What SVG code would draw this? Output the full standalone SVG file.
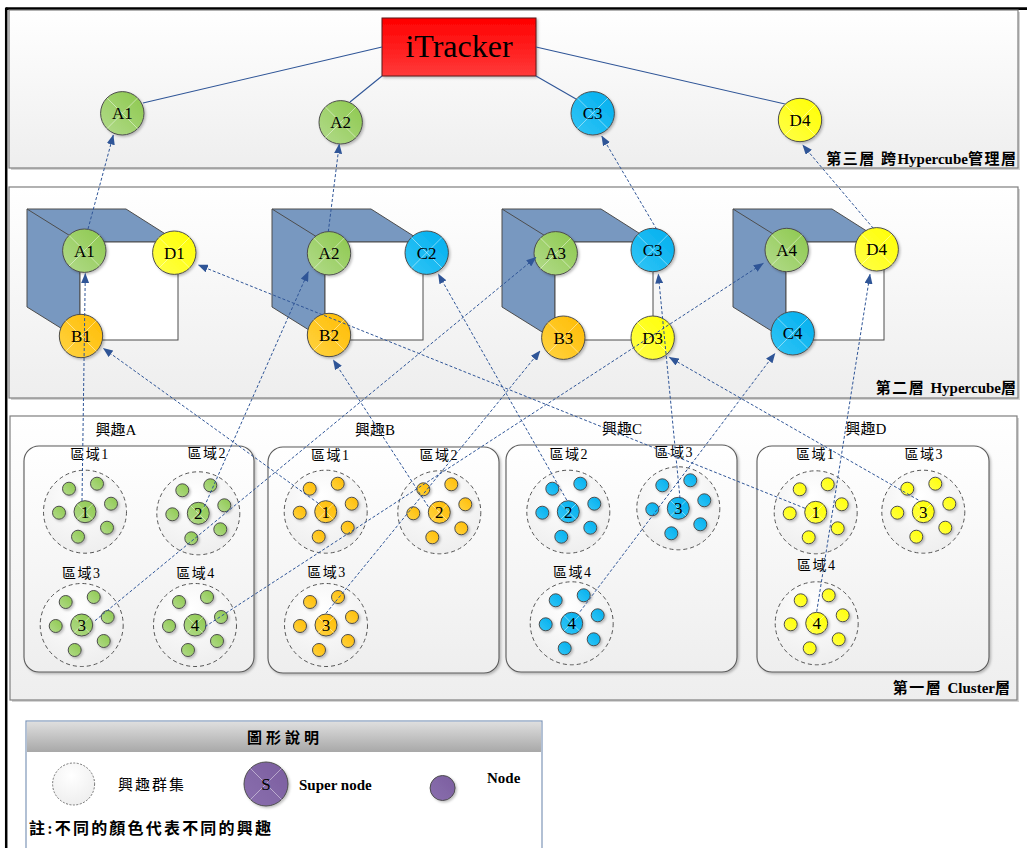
<svg xmlns="http://www.w3.org/2000/svg" xmlns:xlink="http://www.w3.org/1999/xlink" width="1027" height="848" viewBox="0 0 1027 848">
  <defs>
    <style>
      .panel { stroke: #7f7f7f; stroke-width: 1.2; fill: url(#panelFill); }
      .shadow { fill: #d4d4d4; }
      .cubeFace { fill: #7898c0; stroke: #4d4d4d; stroke-width: 1; }
      .cubeFront { fill: #ffffff; stroke: #4d4d4d; stroke-width: 1; }
      .node { stroke: #4d4d4d; stroke-width: 1; }
      .g { fill: url(#gGreen); }
      .o { fill: url(#gOrange); }
      .c { fill: url(#gCyan); }
      .y { fill: url(#gYellow); }
      .p { fill: url(#gPurple); }
      .cluster { fill: url(#panelFill); stroke: #5a5a5a; stroke-width: 1.1; }
      .region { fill: url(#regionFill); stroke: #555555; stroke-width: 1; stroke-dasharray: 4 3; }
      .xm { stroke: #ffffff; stroke-opacity: 0.45; stroke-width: 1; fill: none; }
      .lbl { font-family: 'Liberation Serif', 'Noto Sans CJK TC', serif; fill: #000; text-anchor: middle; }
      .nodeTxt { font-size: 17px; }
      .regTxt { font-size: 14px; letter-spacing: 1.5px; }
      .intTxt { font-size: 15px; }
      .layerTxt { font-family: 'Liberation Serif', 'Noto Sans CJK TC', serif; font-size: 15px; font-weight: bold; text-anchor: end; fill: #000; }
      .cjk { letter-spacing: 1.5px; }
      .solid { stroke: #2f5597; stroke-width: 1.1; fill: none; }
      .dash { stroke: #2f5597; stroke-width: 1; stroke-dasharray: 3 2; fill: none; marker-end: url(#arr); }
    </style>
    <linearGradient id="panelFill" x1="0" y1="0" x2="0" y2="1">
      <stop offset="0" stop-color="#ffffff"/>
      <stop offset="1" stop-color="#eeeeee"/>
    </linearGradient>
    <radialGradient id="regionFill" cx="0.45" cy="0.3" r="0.8">
      <stop offset="0" stop-color="#ffffff"/>
      <stop offset="1" stop-color="#ececec"/>
    </radialGradient>
    <linearGradient id="gGreen" x1="1" y1="0" x2="0" y2="1">
      <stop offset="0" stop-color="#8cc84c"/>
      <stop offset="1" stop-color="#b3db8c"/>
    </linearGradient>
    <linearGradient id="gOrange" x1="1" y1="0" x2="0" y2="1">
      <stop offset="0" stop-color="#ffbb00"/>
      <stop offset="1" stop-color="#ffd444"/>
    </linearGradient>
    <linearGradient id="gCyan" x1="1" y1="0" x2="0" y2="1">
      <stop offset="0" stop-color="#00aeee"/>
      <stop offset="1" stop-color="#33c6f6"/>
    </linearGradient>
    <linearGradient id="gYellow" x1="1" y1="0" x2="0" y2="1">
      <stop offset="0" stop-color="#ffff00"/>
      <stop offset="1" stop-color="#ffff4a"/>
    </linearGradient>
    <linearGradient id="gPurple" x1="1" y1="0" x2="0" y2="1">
      <stop offset="0" stop-color="#7b5e9f"/>
      <stop offset="1" stop-color="#8a6fae"/>
    </linearGradient>
    <linearGradient id="gRed" x1="0" y1="0" x2="0" y2="1">
      <stop offset="0" stop-color="#ff0000"/>
      <stop offset="1" stop-color="#ff3a3a"/>
    </linearGradient>
    <linearGradient id="gHeader" x1="0" y1="0" x2="0" y2="1">
      <stop offset="0" stop-color="#dedede"/>
      <stop offset="1" stop-color="#a8a8a8"/>
    </linearGradient>
    <filter id="soft" x="-20%" y="-20%" width="150%" height="150%">
      <feDropShadow dx="1.5" dy="1.5" stdDeviation="1" flood-color="#000" flood-opacity="0.25"/>
    </filter>
    <!-- faint diagonal cross drawn on each round node (unit circle) -->
    <g id="xm">
      <line x1="-0.707" y1="-0.707" x2="0.707" y2="0.707" class="xm" vector-effect="non-scaling-stroke"/>
      <line x1="0.707" y1="-0.707" x2="-0.707" y2="0.707" class="xm" vector-effect="non-scaling-stroke"/>
    </g>
    <marker id="arr" markerUnits="userSpaceOnUse" markerWidth="10" markerHeight="8" viewBox="0 0 10 8" refX="9.5" refY="4" orient="auto">
      <path d="M0,0 L10,4 L0,8 Z" fill="#2f5597"/>
    </marker>
  </defs>

  <rect width="1027" height="848" fill="#ffffff"/>

  <!-- page frame -->
  <g id="frame">
    <line x1="6" y1="8.7" x2="1027" y2="8.7" stroke="#000" stroke-width="2.7"/>
    <line x1="6.2" y1="7.5" x2="6.2" y2="848" stroke="#000" stroke-width="2.5"/>
  </g>

  <!-- layer panels -->
  <g id="layer3">
    <rect class="shadow" x="11" y="12" width="1009" height="158"/>
    <rect class="panel" x="9" y="10" width="1009" height="158"/>
    <text class="layerTxt" x="1016" y="164"><tspan class="cjk">第三層  跨</tspan>Hypercube<tspan class="cjk">管理</tspan>層</text>
  </g>
  <g id="layer2">
    <rect class="shadow" x="11" y="189" width="1009" height="211"/>
    <rect class="panel" x="9" y="187" width="1009" height="211"/>
    <text class="layerTxt" x="1016" y="393"><tspan class="cjk">第二層  </tspan>Hypercube層</text>
  </g>
  <g id="layer1">
    <rect class="shadow" x="12" y="418" width="1007" height="284"/>
    <rect class="panel" x="10" y="416" width="1007" height="284"/>
    <text class="layerTxt" x="1010" y="693"><tspan class="cjk">第一層 </tspan>Cluster層</text>
  </g>

  <!-- hypercubes -->
  <g id="cube1">
    <polygon class="cubeFace" points="27,209 126,209 178,242 80,242 80,340 27,307"/>
    <line x1="27" y1="209" x2="80" y2="242" stroke="#4d4d4d"/>
    <rect class="cubeFront" x="80" y="242" width="98" height="98"/>
  </g>
  <g id="cube2">
    <polygon class="cubeFace" points="272,209 371,209 423,242 325,242 325,340 272,307"/>
    <line x1="272" y1="209" x2="325" y2="242" stroke="#4d4d4d"/>
    <rect class="cubeFront" x="325" y="242" width="98" height="98"/>
  </g>
  <g id="cube3">
    <polygon class="cubeFace" points="502,209 601,209 653,242 555,242 555,340 502,307"/>
    <line x1="502" y1="209" x2="555" y2="242" stroke="#4d4d4d"/>
    <rect class="cubeFront" x="555" y="242" width="98" height="98"/>
  </g>
  <g id="cube4">
    <polygon class="cubeFace" points="733,209 832,209 884,242 786,242 786,340 733,307"/>
    <line x1="733" y1="209" x2="786" y2="242" stroke="#4d4d4d"/>
    <rect class="cubeFront" x="786" y="242" width="98" height="98"/>
  </g>

  <!-- tracker and layer-3 nodes -->
  <g id="itracker">
    <rect x="382" y="18" width="154" height="58" fill="url(#gRed)" stroke="#5a1a1a" stroke-width="1" filter="url(#soft)"/>
    <text class="lbl" x="459" y="57" font-size="32">iTracker</text>
  </g>

  <g id="connectors-top">
    <line class="solid" x1="382" y1="47" x2="143" y2="103"/>
    <line class="solid" x1="382" y1="76" x2="350" y2="102"/>
    <line class="solid" x1="536" y1="76" x2="576" y2="99"/>
    <line class="solid" x1="536" y1="47" x2="785" y2="104"/>
  </g>

  <g id="t-A1"><circle class="node g" cx="122.3" cy="113.3" r="21.7" filter="url(#soft)"/><use xlink:href="#xm" transform="translate(122.3,113.3) scale(21.7)"/><text class="lbl nodeTxt" x="122.3" y="119.3">A1</text></g>
  <g id="t-A2"><circle class="node g" cx="340.7" cy="122.3" r="21.7" filter="url(#soft)"/><use xlink:href="#xm" transform="translate(340.7,122.3) scale(21.7)"/><text class="lbl nodeTxt" x="340.7" y="128.3">A2</text></g>
  <g id="t-C3"><circle class="node c" cx="592.7" cy="113.3" r="21.7" filter="url(#soft)"/><use xlink:href="#xm" transform="translate(592.7,113.3) scale(21.7)"/><text class="lbl nodeTxt" x="592.7" y="119.3">C3</text></g>
  <g id="t-D4"><circle class="node y" cx="800" cy="120" r="21.7" filter="url(#soft)"/><use xlink:href="#xm" transform="translate(800,120) scale(21.7)"/><text class="lbl nodeTxt" x="800" y="126">D4</text></g>

  <!-- layer-2 nodes -->
  <g id="h-A1"><circle class="node g" cx="84.3" cy="250.7" r="21.7" filter="url(#soft)"/><use xlink:href="#xm" transform="translate(84.3,250.7) scale(21.7)"/><text class="lbl nodeTxt" x="84.3" y="256.7">A1</text></g>
  <g id="h-D1"><circle class="node y" cx="174.3" cy="252.7" r="21.7" filter="url(#soft)"/><use xlink:href="#xm" transform="translate(174.3,252.7) scale(21.7)"/><text class="lbl nodeTxt" x="174.3" y="258.7">D1</text></g>
  <g id="h-B1"><circle class="node o" cx="81" cy="336" r="21.7" filter="url(#soft)"/><use xlink:href="#xm" transform="translate(81,336) scale(21.7)"/><text class="lbl nodeTxt" x="81" y="342">B1</text></g>
  <g id="h-A2"><circle class="node g" cx="329" cy="253.3" r="21.7" filter="url(#soft)"/><use xlink:href="#xm" transform="translate(329,253.3) scale(21.7)"/><text class="lbl nodeTxt" x="329" y="259.3">A2</text></g>
  <g id="h-C2"><circle class="node c" cx="426.7" cy="252.7" r="21.7" filter="url(#soft)"/><use xlink:href="#xm" transform="translate(426.7,252.7) scale(21.7)"/><text class="lbl nodeTxt" x="426.7" y="258.7">C2</text></g>
  <g id="h-B2"><circle class="node o" cx="329" cy="335" r="21.7" filter="url(#soft)"/><use xlink:href="#xm" transform="translate(329,335) scale(21.7)"/><text class="lbl nodeTxt" x="329" y="341">B2</text></g>
  <g id="h-A3"><circle class="node g" cx="555.7" cy="253.3" r="21.7" filter="url(#soft)"/><use xlink:href="#xm" transform="translate(555.7,253.3) scale(21.7)"/><text class="lbl nodeTxt" x="555.7" y="259.3">A3</text></g>
  <g id="h-C3"><circle class="node c" cx="652.7" cy="250" r="21.7" filter="url(#soft)"/><use xlink:href="#xm" transform="translate(652.7,250) scale(21.7)"/><text class="lbl nodeTxt" x="652.7" y="256">C3</text></g>
  <g id="h-B3"><circle class="node o" cx="563.3" cy="337.7" r="21.7" filter="url(#soft)"/><use xlink:href="#xm" transform="translate(563.3,337.7) scale(21.7)"/><text class="lbl nodeTxt" x="563.3" y="343.7">B3</text></g>
  <g id="h-D3"><circle class="node y" cx="652.7" cy="337.7" r="21.7" filter="url(#soft)"/><use xlink:href="#xm" transform="translate(652.7,337.7) scale(21.7)"/><text class="lbl nodeTxt" x="652.7" y="343.7">D3</text></g>
  <g id="h-A4"><circle class="node g" cx="786.7" cy="250" r="21.7" filter="url(#soft)"/><use xlink:href="#xm" transform="translate(786.7,250) scale(21.7)"/><text class="lbl nodeTxt" x="786.7" y="256">A4</text></g>
  <g id="h-D4"><circle class="node y" cx="876.7" cy="249.3" r="21.7" filter="url(#soft)"/><use xlink:href="#xm" transform="translate(876.7,249.3) scale(21.7)"/><text class="lbl nodeTxt" x="876.7" y="255.3">D4</text></g>
  <g id="h-C4"><circle class="node c" cx="792.7" cy="333.3" r="21.7" filter="url(#soft)"/><use xlink:href="#xm" transform="translate(792.7,333.3) scale(21.7)"/><text class="lbl nodeTxt" x="792.7" y="339.3">C4</text></g>

  <!-- interest clusters -->
  <g id="clusterA">
    <rect class="cluster" x="24" y="446" width="230" height="226" rx="15" filter="url(#soft)"/>
    <text class="lbl intTxt" x="116" y="435">興趣A</text>
  </g>
  <g id="clusterB">
    <rect class="cluster" x="268" y="447" width="231" height="226" rx="15" filter="url(#soft)"/>
    <text class="lbl intTxt" x="375" y="435">興趣B</text>
  </g>
  <g id="clusterC">
    <rect class="cluster" x="506" y="445" width="231" height="227" rx="15" filter="url(#soft)"/>
    <text class="lbl intTxt" x="622" y="434">興趣C</text>
  </g>
  <g id="clusterD">
    <rect class="cluster" x="757" y="446" width="232" height="226" rx="15" filter="url(#soft)"/>
    <text class="lbl intTxt" x="866" y="434">興趣D</text>
  </g>

  <!-- region template: six member nodes around a super node -->
  <defs>
    <g id="membersG" class="node g">
      <circle cx="-16" cy="-23" r="6.5"/><circle cx="12" cy="-28" r="6.5"/><circle cx="26" cy="-8" r="6.5"/>
      <circle cx="22" cy="16" r="6.5"/><circle cx="-7" cy="25" r="6.5"/><circle cx="-26" cy="1" r="6.5"/>
    </g>
    <g id="membersO" class="node o">
      <circle cx="-16" cy="-23" r="6.5"/><circle cx="12" cy="-28" r="6.5"/><circle cx="26" cy="-8" r="6.5"/>
      <circle cx="22" cy="16" r="6.5"/><circle cx="-7" cy="25" r="6.5"/><circle cx="-26" cy="1" r="6.5"/>
    </g>
    <g id="membersC" class="node c">
      <circle cx="-16" cy="-23" r="6.5"/><circle cx="12" cy="-28" r="6.5"/><circle cx="26" cy="-8" r="6.5"/>
      <circle cx="22" cy="16" r="6.5"/><circle cx="-7" cy="25" r="6.5"/><circle cx="-26" cy="1" r="6.5"/>
    </g>
    <g id="membersY" class="node y">
      <circle cx="-16" cy="-23" r="6.5"/><circle cx="12" cy="-28" r="6.5"/><circle cx="26" cy="-8" r="6.5"/>
      <circle cx="22" cy="16" r="6.5"/><circle cx="-7" cy="25" r="6.5"/><circle cx="-26" cy="1" r="6.5"/>
    </g>
  </defs>

  <g id="regionA1" transform="translate(85,511.7)">
    <circle class="region" r="41.5"/>
    <use xlink:href="#membersG" filter="url(#soft)"/>
    <circle class="node g" r="11" filter="url(#soft)"/><use xlink:href="#xm" transform="scale(11)"/>
    <text class="lbl nodeTxt" y="6">1</text>
    <text class="lbl regTxt" x="5" y="-53">區域1</text>
  </g>
  <g id="regionA2" transform="translate(198.3,513.3)">
    <circle class="region" r="41.5"/>
    <use xlink:href="#membersG" filter="url(#soft)"/>
    <circle class="node g" r="11" filter="url(#soft)"/><use xlink:href="#xm" transform="scale(11)"/>
    <text class="lbl nodeTxt" y="6">2</text>
    <text class="lbl regTxt" x="9" y="-55">區域2</text>
  </g>
  <g id="regionA3" transform="translate(81.7,625)">
    <circle class="region" r="41.5"/>
    <use xlink:href="#membersG" filter="url(#soft)"/>
    <circle class="node g" r="11" filter="url(#soft)"/><use xlink:href="#xm" transform="scale(11)"/>
    <text class="lbl nodeTxt" y="6">3</text>
    <text class="lbl regTxt" x="0" y="-47">區域3</text>
  </g>
  <g id="regionA4" transform="translate(195,625)">
    <circle class="region" r="41.5"/>
    <use xlink:href="#membersG" filter="url(#soft)"/>
    <circle class="node g" r="11" filter="url(#soft)"/><use xlink:href="#xm" transform="scale(11)"/>
    <text class="lbl nodeTxt" y="6">4</text>
    <text class="lbl regTxt" x="1" y="-47">區域4</text>
  </g>

  <g id="regionB1" transform="translate(325.7,511.7)">
    <circle class="region" r="41.5"/>
    <use xlink:href="#membersO" filter="url(#soft)"/>
    <circle class="node o" r="11" filter="url(#soft)"/><use xlink:href="#xm" transform="scale(11)"/>
    <text class="lbl nodeTxt" y="6">1</text>
    <text class="lbl regTxt" x="5" y="-52">區域1</text>
  </g>
  <g id="regionB2" transform="translate(439.3,512.3)">
    <circle class="region" r="41.5"/>
    <use xlink:href="#membersO" filter="url(#soft)"/>
    <circle class="node o" r="11" filter="url(#soft)"/><use xlink:href="#xm" transform="scale(11)"/>
    <text class="lbl nodeTxt" y="6">2</text>
    <text class="lbl regTxt" x="0" y="-52">區域2</text>
  </g>
  <g id="regionB3" transform="translate(326,625)">
    <circle class="region" r="41.5"/>
    <use xlink:href="#membersO" filter="url(#soft)"/>
    <circle class="node o" r="11" filter="url(#soft)"/><use xlink:href="#xm" transform="scale(11)"/>
    <text class="lbl nodeTxt" y="6">3</text>
    <text class="lbl regTxt" x="1" y="-48">區域3</text>
  </g>

  <g id="regionC2" transform="translate(568.3,511.7)">
    <circle class="region" r="41.5"/>
    <use xlink:href="#membersC" filter="url(#soft)"/>
    <circle class="node c" r="11" filter="url(#soft)"/><use xlink:href="#xm" transform="scale(11)"/>
    <text class="lbl nodeTxt" y="6">2</text>
    <text class="lbl regTxt" x="1" y="-53">區域2</text>
  </g>
  <g id="regionC3" transform="translate(678.3,508.3)">
    <circle class="region" r="41.5"/>
    <use xlink:href="#membersC" filter="url(#soft)"/>
    <circle class="node c" r="11" filter="url(#soft)"/><use xlink:href="#xm" transform="scale(11)"/>
    <text class="lbl nodeTxt" y="6">3</text>
    <text class="lbl regTxt" x="-4" y="-51">區域3</text>
  </g>
  <g id="regionC4" transform="translate(571.7,623.3)">
    <circle class="region" r="41.5"/>
    <use xlink:href="#membersC" filter="url(#soft)"/>
    <circle class="node c" r="11" filter="url(#soft)"/><use xlink:href="#xm" transform="scale(11)"/>
    <text class="lbl nodeTxt" y="6">4</text>
    <text class="lbl regTxt" x="1" y="-46">區域4</text>
  </g>

  <g id="regionD1" transform="translate(815.7,512.3)">
    <circle class="region" r="41.5"/>
    <use xlink:href="#membersY" filter="url(#soft)"/>
    <circle class="node y" r="11" filter="url(#soft)"/><use xlink:href="#xm" transform="scale(11)"/>
    <text class="lbl nodeTxt" y="6">1</text>
    <text class="lbl regTxt" x="0" y="-53">區域1</text>
  </g>
  <g id="regionD3" transform="translate(923.3,511.7)">
    <circle class="region" r="41.5"/>
    <use xlink:href="#membersY" filter="url(#soft)"/>
    <circle class="node y" r="11" filter="url(#soft)"/><use xlink:href="#xm" transform="scale(11)"/>
    <text class="lbl nodeTxt" y="6">3</text>
    <text class="lbl regTxt" x="1" y="-53">區域3</text>
  </g>
  <g id="regionD4" transform="translate(816.7,623.3)">
    <circle class="region" r="41.5"/>
    <use xlink:href="#membersY" filter="url(#soft)"/>
    <circle class="node y" r="11" filter="url(#soft)"/><use xlink:href="#xm" transform="scale(11)"/>
    <text class="lbl nodeTxt" y="6">4</text>
    <text class="lbl regTxt" x="0" y="-53">區域4</text>
  </g>

  <!-- super node → hypercube node, hypercube node → management node -->
  <g id="connectors">
    <line class="dash" x1="82" y1="501" x2="85.3" y2="273.5"/>
    <line class="dash" x1="204.3" y1="506.7" x2="308.3" y2="271.7"/>
    <line class="dash" x1="95" y1="620.7" x2="536" y2="257.3"/>
    <line class="dash" x1="205" y1="626.7" x2="763.3" y2="263.3"/>
    <line class="dash" x1="318.3" y1="503.3" x2="103.3" y2="348.3"/>
    <line class="dash" x1="428.3" y1="506.7" x2="333.3" y2="360"/>
    <line class="dash" x1="326" y1="613.3" x2="540" y2="351"/>
    <line class="dash" x1="566.7" y1="500" x2="438.3" y2="274"/>
    <line class="dash" x1="680" y1="498.3" x2="658.3" y2="274"/>
    <line class="dash" x1="580" y1="611.7" x2="775" y2="353.3"/>
    <line class="dash" x1="805" y1="508.3" x2="198.3" y2="265"/>
    <line class="dash" x1="918.3" y1="500" x2="669.3" y2="357.3"/>
    <line class="dash" x1="816.7" y1="611.7" x2="870" y2="274.3"/>

    <line class="dash" x1="88" y1="229" x2="113.3" y2="135"/>
    <line class="dash" x1="328.3" y1="231.7" x2="339.3" y2="144"/>
    <line class="dash" x1="656.7" y1="229.3" x2="601.7" y2="136"/>
    <line class="dash" x1="873.3" y1="228.3" x2="802.7" y2="145"/>
  </g>

  <!-- legend -->
  <g id="legend">
    <rect x="26" y="721" width="516" height="140" fill="#ffffff" stroke="#7f97b8" stroke-width="1.2"/>
    <rect x="27" y="722" width="514" height="30" fill="url(#gHeader)"/>
    <text x="285" y="743" font-family="'Liberation Serif','Noto Sans CJK TC',serif" font-size="15" font-weight="bold" text-anchor="middle" letter-spacing="4">圖形說明</text>
    <circle cx="73.6" cy="784" r="21" fill="url(#regionFill)" stroke="#666" stroke-width="0.9" stroke-dasharray="2 1.5"/>
    <text x="118" y="790" font-family="'Liberation Serif','Noto Sans CJK TC',serif" font-size="15" letter-spacing="2">興趣群集</text>
    <circle class="node p" cx="266" cy="784" r="22" filter="url(#soft)"/>
    <use xlink:href="#xm" transform="translate(266,784) scale(22)"/>
    <text class="lbl nodeTxt" x="266" y="790">S</text>
    <text x="299" y="790" font-family="'Liberation Serif',serif" font-size="15" font-weight="bold">Super node</text>
    <circle class="node p" cx="442.6" cy="788" r="12.5" filter="url(#soft)"/>
    <text x="487" y="783" font-family="'Liberation Serif',serif" font-size="15" font-weight="bold">Node</text>
    <text x="29" y="834" font-family="'Liberation Serif','Noto Sans CJK TC',serif" font-size="16" font-weight="bold" letter-spacing="2.2">註:不同的顏色代表不同的興趣</text>
  </g>
</svg>
